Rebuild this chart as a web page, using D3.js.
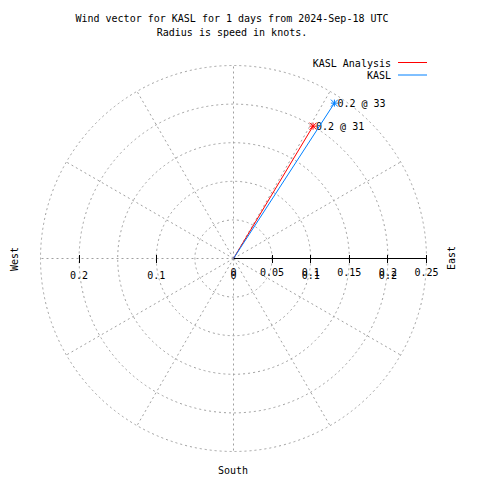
<!DOCTYPE html>
<html>
<head>
<meta charset="utf-8">
<script src="https://cdn.jsdelivr.net/npm/d3@7"></script>
<style>
  html, body { margin: 0; padding: 0; background: #fff; }
  svg text { font-family: "DejaVu Sans Mono", "Liberation Mono", monospace; font-size: 10px; fill: #000; }
</style>
</head>
<body>
<svg id="chart" width="480" height="480"></svg>
<script>
// ---- data ----
const titleLines = ["Wind vector for KASL for 1 days from 2024-Sep-18 UTC", "Radius is speed in knots."];
const seriesNames = ["KASL Analysis", "KASL"];
const speeds = [0.20, 0.24];      // knots
const directions = [31, 33];      // degrees (compass)
const rTicks = [0, 0.05, 0.1, 0.15, 0.2, 0.25];
const xTicks = [-0.2, -0.1, 0, 0.1, 0.2];
const gridRadii = [0.05, 0.1, 0.15, 0.2, 0.25];
const spokeAngles = [0, 30, 60, 90, 120, 150, 180, 210, 240, 270, 300, 330];
const compassLabels = ["West", "East", "South"];

// ---- layout ----
const colors = ["#ff0000", "#0080ff"];
const cx = 233.5, cy = 258.5;
const svg = d3.select("#chart");
const r = d3.scaleLinear().domain([0, 0.25]).range([0, 193]);
const xs = d3.scaleLinear().domain([-0.25, 0.25]).range([cx - 193, cx + 193]);
const px = (spd, deg) => cx + r(spd) * Math.sin(deg * Math.PI / 180);
const py = (spd, deg) => cy - r(spd) * Math.cos(deg * Math.PI / 180);

// grid
const grid = svg.append("g").attr("stroke", "#a0a0a0").attr("fill", "none")
  .attr("stroke-dasharray", "2,3").attr("stroke-width", 1);
grid.selectAll("circle").data(gridRadii).join("circle")
  .attr("cx", cx).attr("cy", cy).attr("r", d => r(d));
grid.selectAll("line").data(spokeAngles).join("line")
  .attr("x1", cx).attr("y1", cy)
  .attr("x2", d => px(0.25, d)).attr("y2", d => py(0.25, d));

// r axis
const ax = svg.append("g").attr("stroke", "#000").attr("stroke-width", 1).attr("shape-rendering", "crispEdges");
ax.append("line").attr("x1", cx).attr("y1", cy).attr("x2", cx + r(0.25)).attr("y2", cy);
ax.selectAll("line.rt").data(rTicks.filter(d => d > 0)).join("line").attr("class", "rt")
  .attr("x1", d => cx + r(d)).attr("x2", d => cx + r(d)).attr("y1", cy - 4).attr("y2", cy + 4);
ax.selectAll("line.xt").data(xTicks.filter(d => d !== 0)).join("line").attr("class", "xt")
  .attr("x1", d => xs(d)).attr("x2", d => xs(d)).attr("y1", cy - 4).attr("y2", cy + 4);

const fmt = d => d3.format("")(Math.round(Math.abs(d) * 100) / 100);
svg.append("g").selectAll("text").data(rTicks).join("text")
  .attr("x", d => cx + r(d)).attr("y", cy + 17).attr("text-anchor", "middle").text(fmt);
svg.append("g").selectAll("text").data(xTicks).join("text")
  .attr("x", d => xs(d)).attr("y", cy + 20).attr("text-anchor", "middle").text(fmt);

// vectors
const vec = svg.append("g");
speeds.forEach((s, i) => {
  const x2 = px(s, directions[i]), y2 = py(s, directions[i]);
  vec.append("line").attr("x1", cx).attr("y1", cy).attr("x2", x2).attr("y2", y2)
    .attr("stroke", colors[i]).attr("stroke-width", 1);
  const m = vec.append("g").attr("stroke", colors[i]).attr("stroke-width", 1)
    .attr("transform", `translate(${x2},${y2})`);
  const k = 3.5;
  m.append("line").attr("x1", -k).attr("x2", k).attr("y1", 0).attr("y2", 0);
  m.append("line").attr("x1", 0).attr("x2", 0).attr("y1", -k).attr("y2", k);
  m.append("line").attr("x1", -k).attr("x2", k).attr("y1", -k).attr("y2", k);
  m.append("line").attr("x1", -k).attr("x2", k).attr("y1", k).attr("y2", -k);
  vec.append("text").attr("x", x2 + 3).attr("y", y2 + 4)
    .text(`${d3.format(".1f")(s)} @ ${directions[i]}`);
});

// title
svg.append("g").selectAll("text").data(titleLines).join("text")
  .attr("x", 232).attr("y", (d, i) => 22 + i * 14).attr("text-anchor", "middle").text(d => d);

// legend
const lg = svg.append("g");
seriesNames.forEach((n, i) => {
  const y = 62.5 + i * 12.5;
  lg.append("text").attr("x", 391).attr("y", y + 4).attr("text-anchor", "end").text(n);
  lg.append("line").attr("x1", 398).attr("x2", 427).attr("y1", y).attr("y2", y)
    .attr("stroke", colors[i]).attr("stroke-width", 1);
});

// compass labels
svg.append("text").attr("transform", "translate(18,259) rotate(-90)").attr("text-anchor", "middle").text(compassLabels[0]);
svg.append("text").attr("transform", "translate(455,258) rotate(-90)").attr("text-anchor", "middle").text(compassLabels[1]);
svg.append("text").attr("x", 233).attr("y", 474).attr("text-anchor", "middle").text(compassLabels[2]);
</script>
</body>
</html>
